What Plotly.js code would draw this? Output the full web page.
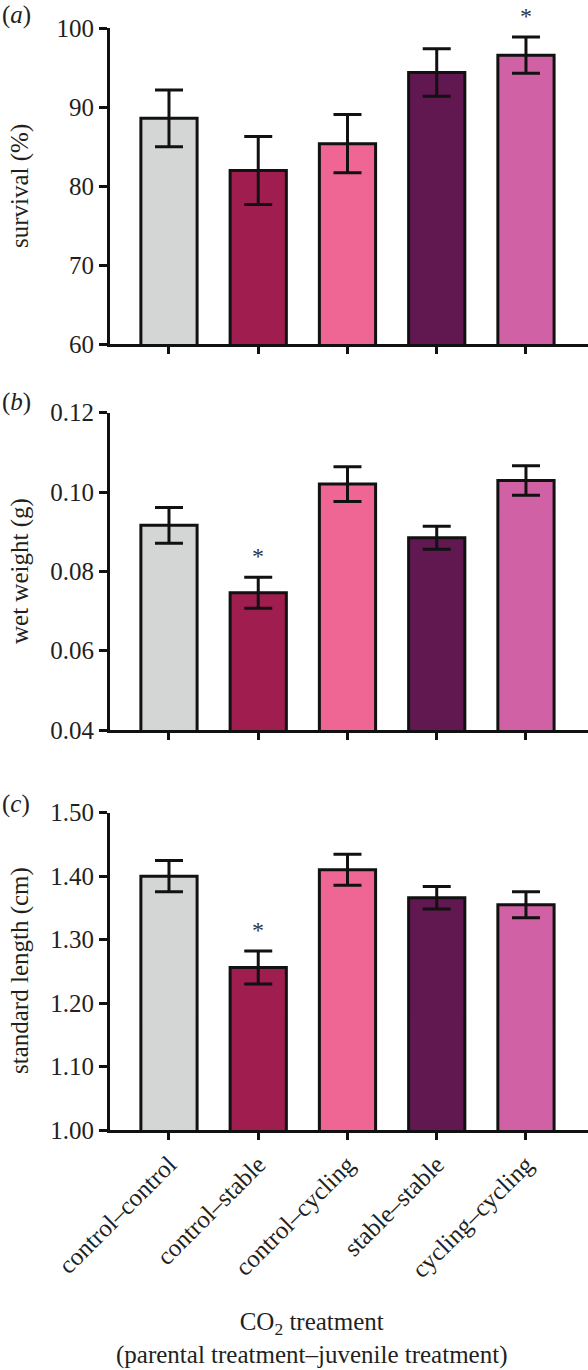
<!DOCTYPE html>
<html>
<head>
<meta charset="utf-8">
<script src="https://cdn.plot.ly/plotly-3.0.1.min.js"></script>
<style>
  html, body { margin: 0; padding: 0; background: #ffffff; }
  #chart { width: 588px; height: 1370px; }
</style>
</head>
<body>
<div id="chart"></div>
<script>
// ---- data ----
const categories = ['control–control', 'control–stable', 'control–cycling', 'stable–stable', 'cycling–cycling'];
const barColors = ['#d4d6d5', '#9f1d4f', '#ef6694', '#611850', '#cf61a4'];

const survivalMean = [88.6, 82.0, 85.4, 94.4, 96.6];
const survivalSE   = [3.6, 4.3, 3.7, 3.0, 2.3];
const survivalSig  = [false, false, false, false, true];

const weightMean = [0.0916, 0.0746, 0.1020, 0.0885, 0.1029];
const weightSE   = [0.0045, 0.0039, 0.0044, 0.0029, 0.0037];
const weightSig  = [false, true, false, false, false];

const lengthMean = [1.400, 1.256, 1.410, 1.366, 1.355];
const lengthSE   = [0.0245, 0.026, 0.0245, 0.0176, 0.0205];
const lengthSig  = [false, true, false, false, false];

const survivalTicks = [60, 70, 80, 90, 100];
const weightTicks = [0.04, 0.06, 0.08, 0.10, 0.12];
const lengthTicks = [1.00, 1.10, 1.20, 1.30, 1.40, 1.50];

// ---- layout helpers ----
const W = 588, H = 1370;
const FONT = 'Liberation Serif, Times New Roman, serif';
const TXT = '#231f20';
const FS = 25;
const idx = categories.map((_, i) => i);

function barTrace(means, ses, xa, ya) {
  return {
    type: 'bar',
    x: idx, y: means,
    xaxis: xa, yaxis: ya,
    width: 0.63,
    marker: { color: barColors, line: { color: '#111', width: 3 } },
    error_y: { type: 'data', array: ses, visible: true, color: '#111', thickness: 3, width: 14 },
    hoverinfo: 'skip',
    showlegend: false
  };
}

const traces = [
  barTrace(survivalMean, survivalSE, 'x', 'y'),
  barTrace(weightMean, weightSE, 'x2', 'y2'),
  barTrace(lengthMean, lengthSE, 'x3', 'y3')
];

function yd(topPx, botPx) { return [1 - botPx / H, 1 - topPx / H]; }

const xRange = [-0.661, 4.695];
function xAxis(showLabels) {
  const ax = {
    domain: [110 / W, 1],
    range: xRange,
    tickmode: 'array',
    tickvals: idx,
    showticklabels: showLabels,
    ticks: 'outside', ticklen: 7, tickwidth: 3, tickcolor: '#111',
    showline: true, linecolor: '#111', linewidth: 3,
    showgrid: false, zeroline: false,
    fixedrange: true
  };
  if (showLabels) {
    ax.ticktext = categories;
    ax.tickangle = -45;
    ax.tickfont = { family: FONT, size: FS, color: TXT };
  }
  return ax;
}
function yAxis(range, ticks, fmt, dom, anchor) {
  return {
    domain: dom,
    range: range,
    anchor: anchor,
    tickmode: 'array',
    tickvals: ticks,
    ticktext: ticks.map(v => fmt(v)),
    ticks: 'outside', ticklen: 8, tickwidth: 3, tickcolor: '#111',
    showline: true, linecolor: '#111', linewidth: 3,
    showgrid: false, zeroline: false,
    tickfont: { family: FONT, size: FS, color: TXT },
    fixedrange: true
  };
}

const annotations = [];
function addStars(means, ses, sig, xa, ya) {
  sig.forEach((s, i) => {
    if (s) annotations.push({
      x: i, y: means[i] + ses[i], xref: xa, yref: ya,
      text: '*', showarrow: false, yanchor: 'bottom', yshift: 6,
      font: { family: FONT, size: 24, color: '#333333' }
    });
  });
}
addStars(survivalMean, survivalSE, survivalSig, 'x', 'y');
addStars(weightMean, weightSE, weightSig, 'x2', 'y2');
addStars(lengthMean, lengthSE, lengthSig, 'x3', 'y3');

function yTitle(text, centerPx) {
  annotations.push({
    x: 20 / W, y: 1 - centerPx / H, xref: 'paper', yref: 'paper',
    text: text, textangle: -90, showarrow: false,
    xanchor: 'center', yanchor: 'middle',
    font: { family: FONT, size: FS, color: TXT }
  });
}
yTitle('survival (%)', 186);
yTitle('wet weight (g)', 571);
yTitle('standard length (cm)', 971);

function panelLabel(letter, yPx) {
  annotations.push({
    x: 0, y: 1 - yPx / H, xref: 'paper', yref: 'paper',
    text: '(<i>' + letter + '</i>)', showarrow: false,
    xanchor: 'left', yanchor: 'middle',
    font: { family: FONT, size: FS, color: TXT }
  });
}
panelLabel('a', 15);
panelLabel('b', 402);
panelLabel('c', 804);

annotations.push({
  x: 311 / W, y: 1 - 1338 / H, xref: 'paper', yref: 'paper',
  text: 'CO<sub>2</sub> treatment<br>(parental treatment–juvenile treatment)',
  showarrow: false, xanchor: 'center', yanchor: 'middle', align: 'center',
  font: { family: FONT, size: FS, color: TXT }
});

const layout = {
  width: W, height: H,
  margin: { l: 0, r: 0, t: 0, b: 0, pad: 0 },
  paper_bgcolor: '#ffffff', plot_bgcolor: '#ffffff',
  showlegend: false,
  xaxis: Object.assign(xAxis(false), { anchor: 'y' }),
  xaxis2: Object.assign(xAxis(false), { anchor: 'y2' }),
  xaxis3: Object.assign(xAxis(true), { anchor: 'y3' }),
  yaxis: yAxis([60, 100], survivalTicks, v => String(v), yd(28.3, 344.3), 'x'),
  yaxis2: yAxis([0.04, 0.12], weightTicks, v => v.toFixed(2), yd(412.7, 730), 'x2'),
  yaxis3: yAxis([1.0, 1.5], lengthTicks, v => v.toFixed(2), yd(812.7, 1130), 'x3'),
  annotations: annotations,
  font: { family: FONT, color: TXT }
};

Plotly.newPlot('chart', traces, layout, { displayModeBar: false, staticPlot: true });
</script>
</body>
</html>
